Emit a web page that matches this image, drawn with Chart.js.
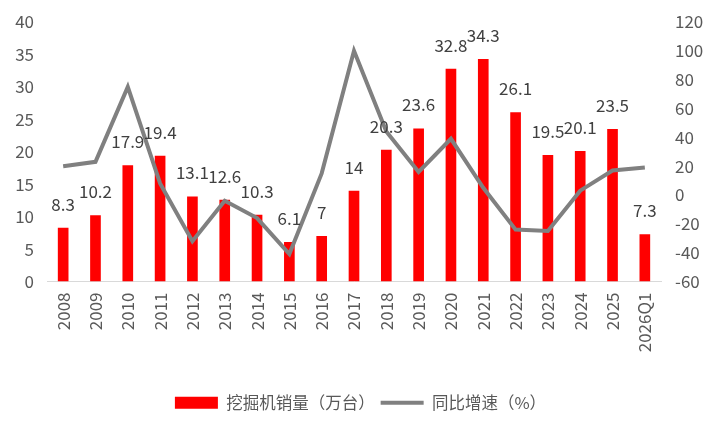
<!DOCTYPE html>
<html>
<head>
<meta charset="utf-8">
<script src="https://cdn.jsdelivr.net/npm/chart.js@4/dist/chart.umd.min.js"></script>
<style>
  html, body { margin: 0; padding: 0; background: #fff; }
  #wrap { width: 721px; height: 433px; }
</style>
</head>
<body>
<div id="wrap"><canvas id="c" width="721" height="433"></canvas></div>
<script>
const years = ['2008', '2009', '2010', '2011', '2012', '2013', '2014', '2015', '2016', '2017',
  '2018', '2019', '2020', '2021', '2022', '2023', '2024', '2025', '2026Q1'];
const sales = [8.3, 10.2, 17.9, 19.4, 13.1, 12.6, 10.3, 6.1, 7, 14,
  20.3, 23.6, 32.8, 34.3, 26.1, 19.5, 20.1, 23.5, 7.3];
const growth = [20, 23, 75, 8, -32, -4, -16, -41, 15, 100,
  44, 16, 39, 5, -24, -25, 3, 17, 19];

const FONT = '"Noto Sans CJK SC", "Noto Sans", sans-serif';

// value labels above the bars
const barLabels = {
  id: 'barLabels',
  afterDatasetsDraw(chart) {
    const ctx = chart.ctx;
    const meta = chart.getDatasetMeta(0);
    ctx.save();
    ctx.font = '17px ' + FONT;
    ctx.fillStyle = '#404040';
    ctx.textAlign = 'center';
    ctx.textBaseline = 'bottom';
    meta.data.forEach((bar, i) => {
      ctx.fillText(String(sales[i]), bar.x, bar.y - 15);
    });
    ctx.restore();
  }
};

new Chart(document.getElementById('c'), {
  data: {
    labels: years,
    datasets: [
      {
        type: 'bar',
        label: '挖掘机销量（万台）',
        data: sales,
        backgroundColor: '#ff0000',
        yAxisID: 'y',
        order: 1,
        barPercentage: 0.66,
        categoryPercentage: 0.5
      },
      {
        type: 'line',
        label: '同比增速（%）',
        data: growth,
        borderColor: '#808080',
        backgroundColor: '#808080',
        borderWidth: 4,
        pointRadius: 0,
        tension: 0,
        yAxisID: 'y1',
        order: 0
      }
    ]
  },
  options: {
    responsive: false,
    animation: false,
    layout: { padding: { top: 22, left: 0, right: 0, bottom: 12 } },
    plugins: {
      tooltip: { enabled: false },
      legend: {
        position: 'bottom',
        labels: {
          font: { family: FONT, size: 16.5 },
          color: '#595959',
          usePointStyle: true,
          pointStyleWidth: 43,
          boxHeight: 12,
          padding: 6,
          sort: (a, b) => a.datasetIndex - b.datasetIndex,
          generateLabels: (chart) => {
            const items = Chart.defaults.plugins.legend.labels.generateLabels(chart);
            items.forEach(it => {
              it.pointStyle = it.datasetIndex === 0 ? 'rect' : 'line';
              if (it.datasetIndex === 0) it.lineWidth = 0;
            });
            return items;
          }
        }
      }
    },
    scales: {
      x: {
        grid: { display: false },
        border: { color: '#d9d9d9', width: 1 },
        ticks: {
          color: '#595959',
          font: { family: FONT, size: 17 },
          minRotation: 90,
          maxRotation: 90,
          autoSkip: false
        },
        afterFit: (s) => { s.height = 107; }
      },
      y: {
        position: 'left',
        min: 0,
        max: 40,
        grid: { display: false },
        border: { display: false },
        ticks: { stepSize: 5, color: '#595959', font: { family: FONT, size: 17 }, padding: 5 },
        afterFit: (s) => { s.width = 47; }
      },
      y1: {
        position: 'right',
        min: -60,
        max: 120,
        grid: { display: false },
        border: { display: false },
        ticks: { stepSize: 20, color: '#595959', font: { family: FONT, size: 17 }, padding: 6 },
        afterFit: (s) => { s.width = 60; }
      }
    }
  },
  plugins: [barLabels]
});
</script>
</body>
</html>
